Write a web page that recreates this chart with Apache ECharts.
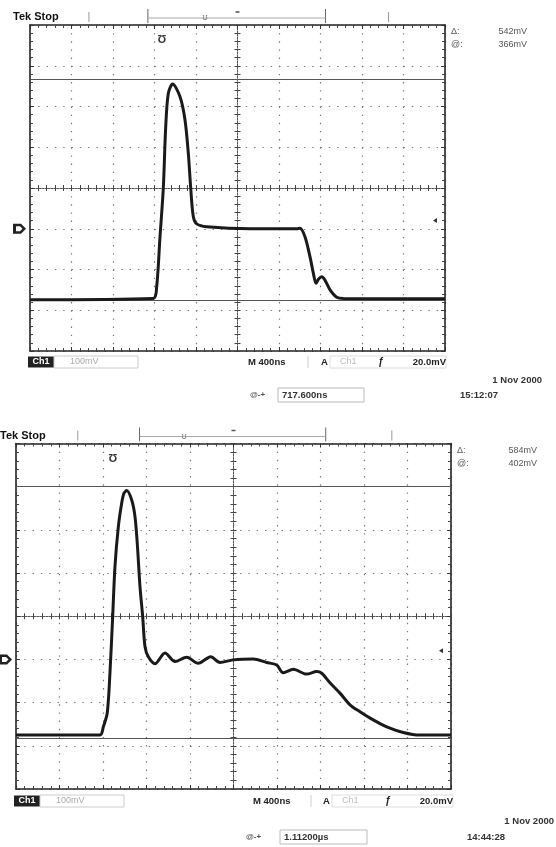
<!DOCTYPE html>
<html>
<head>
<meta charset="utf-8">
<script src="https://cdn.jsdelivr.net/npm/echarts@6.0.0/dist/echarts.min.js"></script>
<style>
  html, body { margin: 0; padding: 0; background: #fff; }
  #chart { width: 556px; height: 847px; }
</style>
</head>
<body>
<div id="chart"></div>
<script>
// time in ns (10 div x 400ns), voltage in mV relative to Ch1 ground
const timeMin = 0, timeMax = 4000, timeStep = 400;
const voltMin = -300, voltMax = 500, voltStep = 100;

// capture 1 (15:12:07)
const topTime = [0, 1188, 1221, 1253, 1285, 1308, 1333, 1375, 1446, 1494,
  1526, 1549, 1574, 1607, 1703, 2121, 2571, 2602, 2651, 2699,
  2731, 2757, 2780, 2812, 2843, 2892, 2956, 3020, 4000];
const topVolt = [-174, -171, -142, -20, 100, 250, 332, 355, 324, 267,
  185, 100, 30, 12, 5, 0, 0, 1, -20, -69,
  -109, -134, -124, -118, -126, -150, -168, -171, -172];
const topCursors = [366, -176];

// capture 2 (14:44:28)
const bottomTime = [0, 772, 803, 839, 864, 889, 910, 941, 972, 993,
  1018, 1064, 1094, 1115, 1140, 1165, 1186, 1217, 1278, 1370,
  1462, 1570, 1676, 1790, 1876, 1995, 2182, 2305, 2397, 2458,
  2550, 2673, 2765, 2811, 2887, 2979, 3071, 3163, 3285, 3409,
  3561, 3715, 4000];
const bottomVolt = [-175, -175, -156, -124, -31, 99, 215, 307, 362, 385,
  391, 369, 331, 269, 169, 99, 30, 6, -10, 15,
  -5, 5, -9, 6, -7, -1, 1, -7, -13, -31,
  -23, -34, -28, -32, -54, -78, -105, -121, -140, -156,
  -169, -175, -175];
const bottomCursors = [402, -182];

const triggerLevel = 20; // mV

const panels = [
  { left: 30, top: 25, width: 415, height: 326,
    mX: 248, sepX: 308, aX: 321, chX: 340, slopeX: 378, trigR: 446, readR: 527,
    dateR: 542, timeX: 460, rowY: 362, dateY: 380, timeY: 395,
    readX: 250, readBoxX: 278, readBoxW: 86, readout: '717.600ns', stamp: '15:12:07',
    trigMarkX: 162, uX: 205, cursors: topCursors },
  { left: 16, top: 443.5, width: 435, height: 345.5,
    mX: 253, sepX: 311, aX: 323, chX: 342, slopeX: 385, trigR: 453, readR: 537,
    dateR: 554, timeX: 467, rowY: 801, dateY: 821, timeY: 837,
    readX: 246, readBoxX: 280, readBoxW: 87, readout: '1.11200µs', stamp: '14:44:28',
    trigMarkX: 113, uX: 184, cursors: bottomCursors }
];

const FONT = "'Liberation Sans', 'DejaVu Sans', sans-serif";
const ink = '#1a1a1a';

function xAxes(gi, p) {
  const base = {
    gridIndex: gi, type: 'value', min: timeMin, max: timeMax, interval: timeStep,
    axisLabel: { show: false }, splitLine: { show: false }
  };
  const border = {
    axisLine: { onZero: false, lineStyle: { color: '#222', width: 1.6 } },
    axisTick: { show: true, inside: true, length: 4, lineStyle: { color: '#333' } },
    minorTick: { show: true, splitNumber: 5, length: 3, lineStyle: { color: '#444' } }
  };
  const center = (inside) => ({
    position: 'bottom', offset: -p.height / 2,
    axisLine: { onZero: false, lineStyle: { color: '#555', width: 1, type: [1.5, 1.5] } },
    axisTick: { show: true, inside: inside, length: 3, lineStyle: { color: '#444' } },
    minorTick: { show: true, splitNumber: 5, length: 3, lineStyle: { color: '#444' } }
  });
  return [
    Object.assign({}, base, border, { position: 'bottom',
      splitLine: { show: true, lineStyle: { color: '#777', width: 1.2, type: [1.4, 6.75] } } }),
    Object.assign({}, base, border, { position: 'top' }),
    Object.assign({}, base, center(true)),
    Object.assign({}, base, center(false))
  ];
}

function yAxes(gi, p) {
  const base = {
    gridIndex: gi, type: 'value', min: voltMin, max: voltMax, interval: voltStep,
    axisLabel: { show: false }, splitLine: { show: false }
  };
  const border = {
    axisLine: { onZero: false, lineStyle: { color: '#222', width: 1.6 } },
    axisTick: { show: true, inside: true, length: 4, lineStyle: { color: '#333' } },
    minorTick: { show: true, splitNumber: 5, length: 3, lineStyle: { color: '#444' } }
  };
  const center = (inside) => ({
    position: 'left', offset: -p.width / 2,
    axisLine: { onZero: false, lineStyle: { color: '#555', width: 1, type: [1.5, 1.5] } },
    axisTick: { show: true, inside: inside, length: 3, lineStyle: { color: '#444' } },
    minorTick: { show: true, splitNumber: 5, length: 3, lineStyle: { color: '#444' } }
  });
  return [
    Object.assign({}, base, border, { position: 'left',
      splitLine: { show: true, lineStyle: { color: '#777', width: 1.2, type: [1.4, 6.9] } } }),
    Object.assign({}, base, border, { position: 'right' }),
    Object.assign({}, base, center(true)),
    Object.assign({}, base, center(false))
  ];
}

function txt(text, x, y, opt) {
  return {
    type: 'text', x: x, y: y, silent: true, z: 100,
    style: Object.assign({
      text: text, fill: ink, font: 'bold 9px ' + FONT,
      textAlign: 'left', textVerticalAlign: 'middle', verticalAlign: 'middle'
    }, opt || {})
  };
}
function ln(x1, y1, x2, y2, stroke, w) {
  return { type: 'line', silent: true, z: 100,
    shape: { x1: x1, y1: y1, x2: x2, y2: y2 },
    style: { stroke: stroke || '#333', lineWidth: w || 1 } };
}
function box(x, y, w, h, fill, stroke) {
  return { type: 'rect', silent: true, z: 99,
    shape: { x: x, y: y, width: w, height: h },
    style: { fill: fill || 'none', stroke: stroke || 'none', lineWidth: 1 } };
}

function decor(p) {
  const L = p.left, T = p.top, W = p.width, H = p.height, R = L + W, B = T + H;
  const yOf = v => T + (voltMax - v) / (voltMax - voltMin) * H;
  const g0 = yOf(0), gt = yOf(triggerLevel);
  const ry = p.rowY;
  const delta = p.cursors[0] - p.cursors[1];
  return [
    txt('Tek Stop', Math.max(0, L - 17), T - 8, { font: 'bold 11px ' + FONT, fill: '#111' }),
    // record view bracket
    ln(L + 0.142 * W, T - 13, L + 0.142 * W, T - 3, '#999'),
    ln(L + 0.284 * W, T - 16, L + 0.284 * W, T - 2, '#666'),
    ln(L + 0.712 * W, T - 16, L + 0.712 * W, T - 2, '#666'),
    ln(L + 0.864 * W, T - 13, L + 0.864 * W, T - 3, '#999'),
    ln(L + 0.284 * W, T - 7, L + 0.712 * W, T - 7, '#aaa'),
    txt('ʊ', p.uX, T - 7, { font: '9px ' + FONT, fill: '#777', textAlign: 'center' }),
    ln(L + W / 2 - 2, T - 13, L + W / 2 + 2, T - 13, '#555', 1.5),
    // trigger position marker
    txt('Ʊ', p.trigMarkX, T + 15, { font: 'bold 11px ' + FONT, fill: '#333', textAlign: 'center' }),
    // channel 1 ground marker
    { type: 'polygon', silent: true, z: 100,
      shape: { points: [[L - 17, g0 - 5], [L - 9, g0 - 5], [L - 4, g0], [L - 9, g0 + 5], [L - 17, g0 + 5]] },
      style: { fill: '#222' } },
    { type: 'polygon', silent: true, z: 101,
      shape: { points: [[L - 14, g0 - 2.5], [L - 10, g0 - 2.5], [L - 7.5, g0], [L - 10, g0 + 2.5], [L - 14, g0 + 2.5]] },
      style: { fill: '#fff' } },
    // trigger level marker
    { type: 'polygon', silent: true, z: 100,
      shape: { points: [[R - 12, gt], [R - 8, gt - 2.5], [R - 8, gt + 2.5]] },
      style: { fill: '#333' } },
    // cursor readouts
    txt('Δ:', R + 6, T + 7, { font: '9px ' + FONT, fill: '#555' }),
    txt(delta + 'mV', p.readR, T + 7, { font: '9px ' + FONT, fill: '#555', textAlign: 'right' }),
    txt('@:', R + 6, T + 20, { font: '9px ' + FONT, fill: '#555' }),
    txt(p.cursors[0] + 'mV', p.readR, T + 20, { font: '9px ' + FONT, fill: '#555', textAlign: 'right' }),
    // status row
    box(L - 2, ry - 5.5, 26, 11, '#222'),
    txt('Ch1', L + 11, ry, { fill: '#fff', textAlign: 'center' }),
    box(L + 24, ry - 6, 84, 12, 'none', '#ccc'),
    txt('100mV', L + 40, ry, { font: '9px ' + FONT, fill: '#aaa' }),
    txt('M 400ns', p.mX, ry, { font: 'bold 9.5px ' + FONT, fill: '#222' }),
    ln(p.sepX, ry - 6, p.sepX, ry + 6, '#ccc'),
    txt('A', p.aX, ry, { font: 'bold 9.5px ' + FONT, fill: '#222' }),
    box(p.aX + 9, ry - 6, p.trigR - p.aX - 9, 12, 'none', '#ddd'),
    txt('Ch1', p.chX, ry, { font: '9px ' + FONT, fill: '#bbb' }),
    txt('ƒ', p.slopeX, ry, { font: 'bold italic 10px ' + FONT, fill: '#222' }),
    txt(triggerLevel.toFixed(1) + 'mV', p.trigR, ry, { font: 'bold 9.5px ' + FONT, fill: '#222', textAlign: 'right' }),
    // date / time
    txt('1 Nov 2000', p.dateR, p.dateY, { font: 'bold 9.5px ' + FONT, fill: '#333', textAlign: 'right' }),
    txt(p.stamp, p.timeX, p.timeY, { font: 'bold 9.5px ' + FONT, fill: '#333' }),
    // cursor position readout
    txt('@-+', p.readX, p.timeY, { font: 'bold 8px ' + FONT, fill: '#555' }),
    box(p.readBoxX, p.timeY - 7, p.readBoxW, 14, 'none', '#bbb'),
    txt(p.readout, p.readBoxX + 4, p.timeY, { font: 'bold 9.5px ' + FONT, fill: '#333' })
  ];
}

function trace(gi, times, volts, cursors) {
  return {
    type: 'line', xAxisIndex: gi * 4, yAxisIndex: gi * 4,
    data: times.map((t, i) => [t, volts[i]]),
    symbol: 'none', smooth: 0.3,
    lineStyle: { color: ink, width: 3 },
    clip: true, z: 5,
    markLine: {
      silent: true, symbol: 'none', label: { show: false },
      lineStyle: { color: '#555', width: 1, type: 'solid' },
      data: cursors.map(c => ({ yAxis: c }))
    }
  };
}

const chart = echarts.init(document.getElementById('chart'), null, { renderer: 'canvas' });
chart.setOption({
  animation: false,
  backgroundColor: '#fff',
  grid: panels.map(p => ({ left: p.left, top: p.top, width: p.width, height: p.height, containLabel: false })),
  xAxis: [].concat(xAxes(0, panels[0]), xAxes(1, panels[1])),
  yAxis: [].concat(yAxes(0, panels[0]), yAxes(1, panels[1])),
  series: [
    trace(0, topTime, topVolt, topCursors),
    trace(1, bottomTime, bottomVolt, bottomCursors)
  ],
  graphic: [].concat(decor(panels[0]), decor(panels[1]))
});
</script>
</body>
</html>
